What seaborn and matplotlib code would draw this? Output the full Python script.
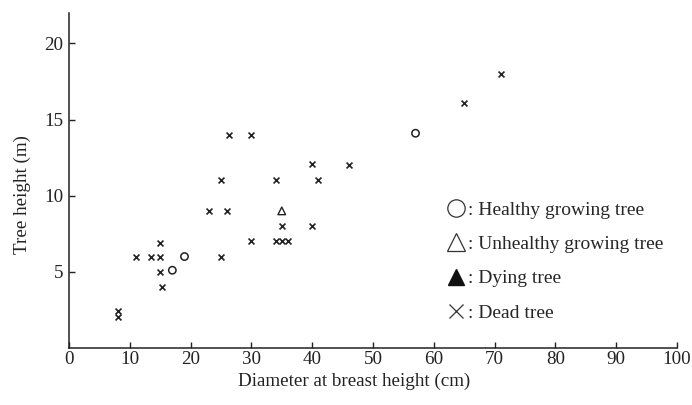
import matplotlib
matplotlib.use("Agg")
import matplotlib.pyplot as plt
from matplotlib.lines import Line2D
import seaborn as sns
import pandas as pd

# Data
healthy_dbh = [17, 19, 57]
healthy_h = [5.1, 6.0, 14.1]
unhealthy_dbh = [35]
unhealthy_h = [9.0]
dead_dbh = [8, 8, 11, 13.5, 15, 15, 15, 15.3, 23, 25, 25, 26, 26.3, 30, 30,
            34, 34, 35, 35, 36, 40, 40, 41, 46, 65, 71]
dead_h = [2.4, 2.0, 6.0, 6.0, 6.9, 6.0, 5.0, 4.0, 9.0, 11.0, 6.0, 9.0, 14.0, 14.0, 7.0,
          11.0, 7.0, 7.0, 8.0, 7.0, 12.1, 8.0, 11.0, 12.0, 16.1, 18.0]
legend_labels = [": Healthy growing tree", ": Unhealthy growing tree",
                 ": Dying tree", ": Dead tree"]
x_ticks = [0, 10, 20, 30, 40, 50, 60, 70, 80, 90, 100]
y_ticks = [5, 10, 15, 20]

sns.set_theme(style="ticks")
plt.rcParams["font.family"] = ["Liberation Serif", "DejaVu Serif"]

fig = plt.figure(figsize=(6.92, 4.05), dpi=100)
ax = fig.add_axes([0.0997, 0.141, 0.8785, 0.827])

hdf = pd.DataFrame({"x": healthy_dbh, "y": healthy_h})
udf = pd.DataFrame({"x": unhealthy_dbh, "y": unhealthy_h})
ddf = pd.DataFrame({"x": dead_dbh, "y": dead_h})

sns.scatterplot(data=hdf, x="x", y="y", ax=ax, marker="o", s=28,
                facecolor="none", edgecolor="#222222", linewidth=1.1, legend=False)
sns.scatterplot(data=udf, x="x", y="y", ax=ax, marker="^", s=30,
                facecolor="none", edgecolor="#222222", linewidth=1.0, legend=False)
sns.scatterplot(data=ddf, x="x", y="y", ax=ax, marker="x", s=18,
                color="#222222", linewidth=1.2, legend=False)

ax.set_xlim(0, 100)
ax.set_ylim(0, 22)
ax.set_xticks(x_ticks)
ax.set_yticks(y_ticks)
ax.tick_params(direction="in", length=4, width=1, labelsize=13.7, colors="#222222")
ax.tick_params(axis="x", pad=2)
ax.tick_params(axis="y", pad=4)
for sp in ["top", "right"]:
    ax.spines[sp].set_visible(False)
for sp in ["left", "bottom"]:
    ax.spines[sp].set_color("#222222")
    ax.spines[sp].set_linewidth(1.1)

ax.set_xlabel("Diameter at breast height (cm)", fontsize=13.7, color="#222222")
ax.set_ylabel("Tree height (m)", fontsize=13.7, color="#222222")
ax.xaxis.set_label_coords(0.469, -0.075)
ax.yaxis.set_label_coords(-0.063, 0.457)

handles = [
    Line2D([], [], linestyle="none", marker="o", markersize=12.5, markerfacecolor="none",
           markeredgecolor="#333333", markeredgewidth=0.9),
    Line2D([], [], linestyle="none", marker="^", markersize=12.5, markerfacecolor="none",
           markeredgecolor="#333333", markeredgewidth=0.9),
    Line2D([], [], linestyle="none", marker="^", markersize=12, markerfacecolor="#111111",
           markeredgecolor="#111111"),
    Line2D([], [], linestyle="none", marker="x", markersize=10, color="#333333",
           markeredgewidth=0.9),
]
ax.legend(handles, legend_labels, loc="upper left", bbox_to_anchor=(0.62, 0.437),
          frameon=False, fontsize=14, handlelength=1.0, handletextpad=0.15,
          labelspacing=0.85, borderpad=0, borderaxespad=0)

fig.savefig("out.png", dpi=100)
